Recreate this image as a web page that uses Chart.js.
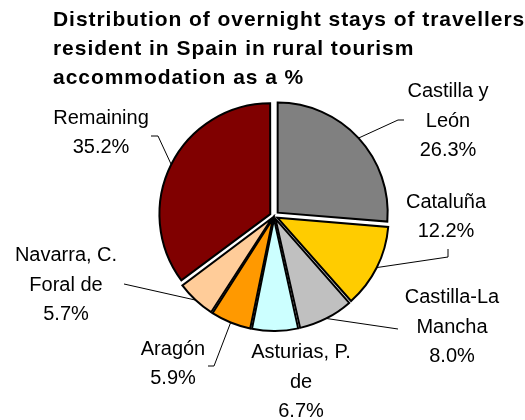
<!DOCTYPE html>
<html>
<head>
<meta charset="utf-8">
<script src="https://cdn.jsdelivr.net/npm/chart.js@4"></script>
<style>
  html, body { margin: 0; padding: 0; background: #ffffff; }
  .box { width: 525px; height: 420px; position: relative; }
</style>
</head>
<body>
<div class="box"><canvas class="Graph-1"></canvas></div>
<script>
const regions = ["Castilla y León", "Cataluña", "Castilla-La Mancha", "Asturias, P. de", "Aragón", "Navarra, C. Foral de", "Remaining"]
const shares = [26.3, 12.2, 8.0, 6.7, 5.9, 5.7, 35.2]
const labelLines = [["Castilla y", "León"], ["Cataluña"], ["Castilla-La", "Mancha"], ["Asturias, P.", "de"], ["Aragón"], ["Navarra, C.", "Foral de"], ["Remaining"]]
const titleLines = ["Distribution of overnight stays of travellers", "resident in Spain in rural tourism", "accommodation as a %"]

const sliceColors = ["#808080", "#ffcc00", "#c0c0c0", "#ccffff", "#ff9900", "#ffcc99", "#800000"]

// where each label block sits, relative to the pie centre, and the leader bends (relative to the label)
const labelPos = [[174, -95], [172, 1], [178, 111], [27, 166], [-101, 148], [-208, 69], [-173, -83]]
const leaderPts = [
    [[-50, -1], [-44, -1]],
    [[2, 40], [2, 32]],
    [[-54, 2]],
    [],
    [[41, 2], [35, 2]],
    [[58, -1]],
    [[57, 3], [50, 3]]
]
const lineGap = 29.5
const explode = 5

// chart.js v4 moves an arc by offset/4 * (1 + fix), fix = 1 - sin(circumference)
function shiftFactor(share) {
    const circ = share / 100 * Math.PI * 2
    return (1 + (1 - Math.sin(Math.min(Math.PI, circ)))) / 4
}
const sliceOffsets = shares.map(function (s) { return explode / shiftFactor(s) })

const labelPlugin = {
    id: "pieLabels",
    afterDatasetsDraw(chart) {
        const ctx = chart.ctx
        const arcs = chart.getDatasetMeta(0).data
        ctx.save()
        ctx.font = "20px 'Liberation Sans', Arial, sans-serif"
        ctx.fillStyle = "#000000"
        ctx.textAlign = "center"
        ctx.textBaseline = "middle"
        arcs.forEach(function (arc, i) {
            const p = arc.getProps(["x", "y", "startAngle", "endAngle", "outerRadius"], true)
            const mid = (p.startAngle + p.endAngle) / 2
            const off = arc.options.offset * shiftFactor(shares[i])
            const cx = p.x + Math.cos(mid) * off
            const cy = p.y + Math.sin(mid) * off
            const lx = p.x + labelPos[i][0]
            const ly = p.y + labelPos[i][1]

            if (leaderPts[i].length) {
                ctx.beginPath()
                ctx.strokeStyle = "#000000"
                ctx.lineWidth = 1
                ctx.moveTo(cx + Math.cos(mid) * p.outerRadius, cy + Math.sin(mid) * p.outerRadius)
                leaderPts[i].forEach(function (pt) {
                    ctx.lineTo(lx + pt[0], ly + pt[1])
                })
                ctx.stroke()
            }

            const lines = labelLines[i].concat([shares[i].toFixed(1) + "%"])
            const top = ly - (lines.length - 1) * lineGap / 2
            lines.forEach(function (t, k) {
                ctx.fillText(t, lx, top + k * lineGap)
            })
        })
        ctx.restore()
    },
    afterDraw(chart) {
        const ctx = chart.ctx
        ctx.save()
        ctx.font = "bold 21px 'Liberation Sans', Arial, sans-serif"
        ctx.letterSpacing = "0.95px"
        ctx.fillStyle = "#000000"
        ctx.textAlign = "left"
        ctx.textBaseline = "middle"
        titleLines.forEach(function (t, k) {
            ctx.fillText(t, 53, 20 + k * 29)
        })
        ctx.restore()
    }
}

const ctxTag = document.querySelector(".Graph-1")
const ctx1 = ctxTag.getContext("2d")

const pieData = {
    labels: regions,
    datasets: [{
        data: shares,
        backgroundColor: sliceColors,
        borderColor: "#000000",
        borderWidth: 2,
        borderJoinStyle: "miter",
        offset: sliceOffsets,
        hoverOffset: 0
    }]
}

const configPie = {
    type: "pie",
    data: pieData,
    options: {
        responsive: true,
        maintainAspectRatio: false,
        animation: false,
        radius: 110,
        layout: { padding: { left: 23, right: 0, top: 12, bottom: 0 } },
        plugins: {
            legend: { display: false },
            title: { display: false },
            tooltip: { enabled: false }
        }
    },
    plugins: [labelPlugin]
}

const PieChart = new Chart(ctx1, configPie)
</script>
</body>
</html>
